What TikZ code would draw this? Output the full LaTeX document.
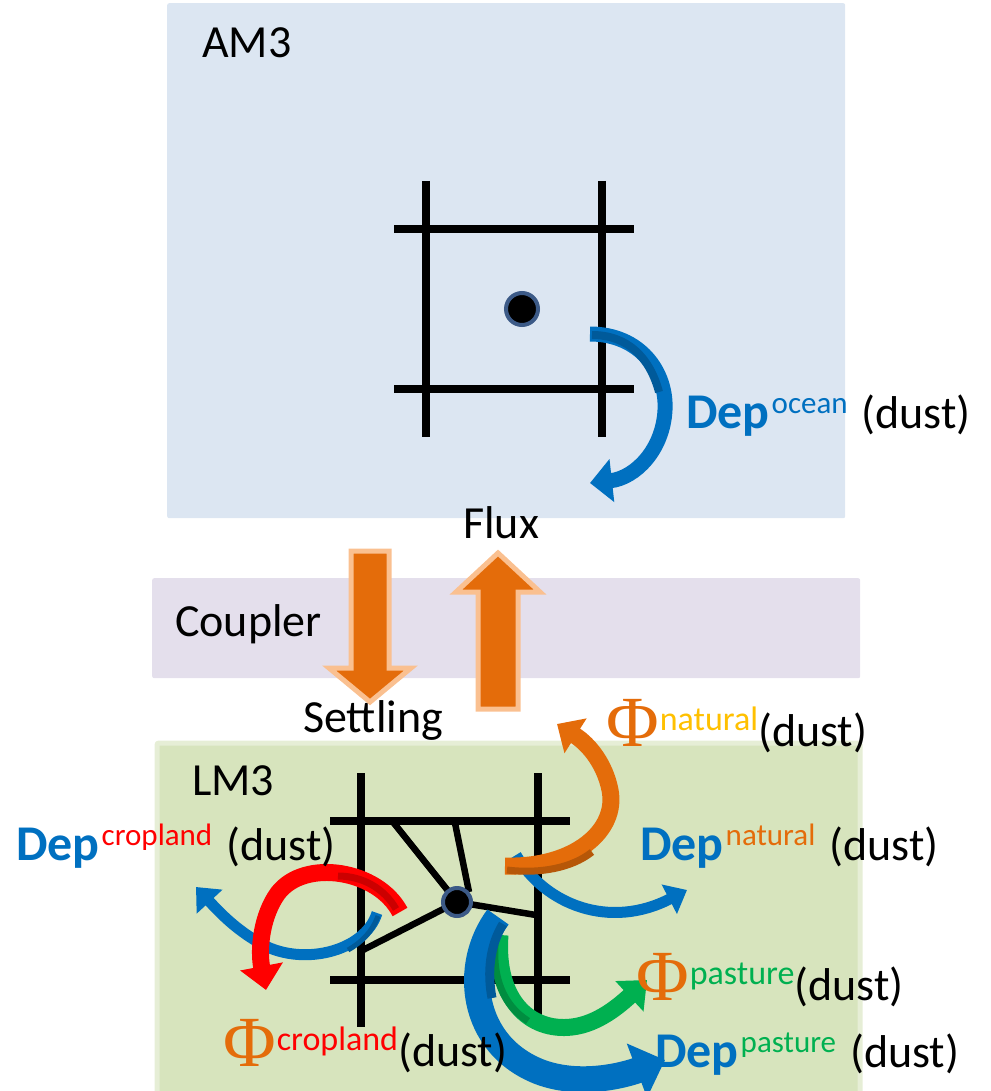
\documentclass[tikz,border=0pt]{standalone}
\usepackage{fontspec}
\setmainfont{Carlito}
\newfontfamily\phifont{Liberation Serif}
\usetikzlibrary{arrows.meta}
\definecolor{am3bg}{HTML}{DCE6F2}
\definecolor{cplbg}{HTML}{E4DFEC}
\definecolor{lm3bg}{HTML}{D7E4BD}
\definecolor{lm3edge}{HTML}{E6EED6}
\definecolor{depblue}{HTML}{0070C0}
\definecolor{darkblue}{HTML}{005A9A}
\definecolor{orng}{HTML}{E46C0A}
\definecolor{darkorng}{HTML}{B65708}
\definecolor{orngline}{HTML}{FAC090}
\definecolor{crpred}{HTML}{FF0000}
\definecolor{darkred}{HTML}{CC0000}
\definecolor{natyel}{HTML}{FFC000}
\definecolor{pasgrn}{HTML}{00B050}
\definecolor{darkgrn}{HTML}{008D40}
\definecolor{dotring}{HTML}{3C5A87}
\newcommand\DepSup[2]{{\fontsize{50}{50}\selectfont\bfseries\color{depblue}Dep}\kern2pt\raisebox{15pt}{\fontsize{31}{31}\selectfont\color{#1}#2}}
\newcommand\PhiSup[2]{{\phifont\fontsize{72}{72}\selectfont\color{orng}Φ}\kern1pt\raisebox{16pt}{\fontsize{34}{34}\selectfont\color{#1}#2}}
\begin{document}
\begin{tikzpicture}[x=1pt,y=-1pt,
  lbl/.style={inner sep=0pt, anchor=base west, font=\fontsize{46}{50}\selectfont},
  panel/.style={inner sep=0pt, anchor=north west, rounded corners=2pt},
  gridline/.style={line width=8pt, black},
  meshline/.style={line width=6.5pt, black},
  blockarrow/.style={fill=orng, draw=orngline, line width=5pt, line join=miter},
  cell/.style={circle, fill=black, draw=dotring, line width=4pt, inner sep=0pt},
  carrow/.style={line cap=butt},
  shade/.style={line cap=butt}]
\useasboundingbox (0,0) rectangle (990,1091);
\clip (0,0) rectangle (990,1091);
% panels
\node[panel, fill=am3bg, minimum width=678pt, minimum height=515pt] (am3) at (167,3) {};
\node[panel, fill=cplbg, minimum width=708pt, minimum height=100pt] (cpl) at (152,578) {};
\node[panel, fill=lm3bg, draw=lm3edge, line width=5pt, minimum width=703pt, minimum height=380pt] (lm3) at (154.5,740.5) {};
% panel titles
\node[lbl] (am3t) at (202,58) {AM3};
\node[lbl] (cplt) at (175,636) {Coupler};
\node[lbl] (lm3t) at (192,795) {LM3};
\node[lbl] (flux) at (463,538) {Flux};
\node[lbl] (settl) at (303,732) {Settling};
% block arrows
\draw[blockarrow] (351,551) -- (389,551) -- (389,668) -- (411,668) -- (370,702) -- (329,668) -- (351,668) -- cycle;
\draw[blockarrow] (478,709) -- (518,709) -- (518,592) -- (540,592) -- (498,553) -- (456,592) -- (478,592) -- cycle;
% top grid
\draw[gridline] (426,181) -- (426,437);
\draw[gridline] (602,181) -- (602,437);
\draw[gridline] (394,229) -- (634,229);
\draw[gridline] (394,389) -- (634,389);
\node[cell, minimum size=32pt] (adot) at (522,309) {};
% ocean deposition arrow
\draw[carrow, line width=15pt, depblue, -{Triangle[width=42pt,length=22pt]}] (590,334) .. controls (640,334) and (667,372) .. (665,410) .. controls (663,450) and (635,478) .. (590,483);
\draw[shade, line width=8pt, darkblue] (592,335) .. controls (628,335) and (650,358) .. (659,392);
\node[lbl] (docean) at (686,428) {\DepSup{depblue}{ocean}\hspace{14pt}(dust)};
% bottom grid
\draw[gridline] (361,773) -- (361,1027);
\draw[gridline] (538,773) -- (538,1027);
\draw[gridline] (330,821) -- (570,821);
\draw[gridline] (330,980) -- (570,980);
\coordinate (m1) at (393,822);
\coordinate (m2) at (455,823);
\coordinate (m3) at (363,950);
\coordinate (m4) at (536,915);
\coordinate (ldotc) at (457,902);
\draw[meshline] (m1) -- (ldotc);
\draw[meshline] (m2) -- (469,892);
\draw[meshline] (m3) -- (ldotc);
\draw[meshline] (ldotc) -- (m4);
\node[cell, minimum size=28pt] (ldot) at (ldotc) {};
% curved arrows, land
\draw[carrow, line width=11pt, depblue, -{Triangle[width=34pt,length=20pt]}] (377,913) .. controls (365,952) and (300,968) .. (258,942) .. controls (236,929) and (222,915) .. (196,887);
\draw[shade, line width=5pt, darkblue] (378,916) .. controls (372,932) and (362,942) .. (348,950);
\draw[carrow, line width=17pt, crpred, -{Triangle[width=42pt,length=24pt]}] (400,912) .. controls (378,870) and (305,858) .. (278,893) .. controls (262,915) and (258,948) .. (266,990);
\draw[shade, line width=7pt, darkred] (396,909) .. controls (384,888) and (362,876) .. (338,876);
\draw[carrow, line width=11pt, depblue, -{Triangle[width=32pt,length=20pt]}] (516,855) .. controls (545,905) and (610,930) .. (687,890);
\draw[carrow, line width=17pt, orng, -{Triangle[width=40pt,length=22pt]}] (505,866) .. controls (575,868) and (618,830) .. (610,790) .. controls (605,765) and (590,745) .. (557,724);
\draw[shade, line width=7pt, darkorng] (507,870) .. controls (540,874) and (572,868) .. (592,852);
\draw[carrow, line width=17pt, pasgrn, -{Triangle[width=40pt,length=24pt]}] (500,935) .. controls (495,1000) and (530,1032) .. (572,1027) .. controls (598,1024) and (620,1005) .. (647,980);
\draw[shade, line width=7pt, darkgrn] (495,945) .. controls (493,978) and (503,1005) .. (528,1021);
\draw[carrow, line width=26pt, depblue, -{Triangle[width=56pt,length=30pt]}] (498,917) .. controls (462,965) and (470,1045) .. (540,1072) .. controls (580,1087) and (625,1075) .. (665,1060);
\draw[shade, line width=9pt, darkblue] (503,924) .. controls (490,945) and (487,972) .. (492,998);
% land labels
\node[lbl] (pnat) at (606,746) {\PhiSup{natyel}{natural}(dust)};
\node[lbl] (dnat) at (640,860) {\DepSup{orng}{natural}\hspace{14pt}(dust)};
\node[lbl] (dcrop) at (16,860) {\DepSup{crpred}{cropland}\hspace{14pt}(dust)};
\node[lbl] (ppas) at (636,1000) {\PhiSup{pasgrn}{pasture}(dust)};
\node[lbl] (dpas) at (655,1067) {\DepSup{pasgrn}{pasture}\hspace{14pt}(dust)};
\node[lbl] (pcrop) at (223,1066) {\PhiSup{crpred}{cropland}(dust)};
\end{tikzpicture}
\end{document}
